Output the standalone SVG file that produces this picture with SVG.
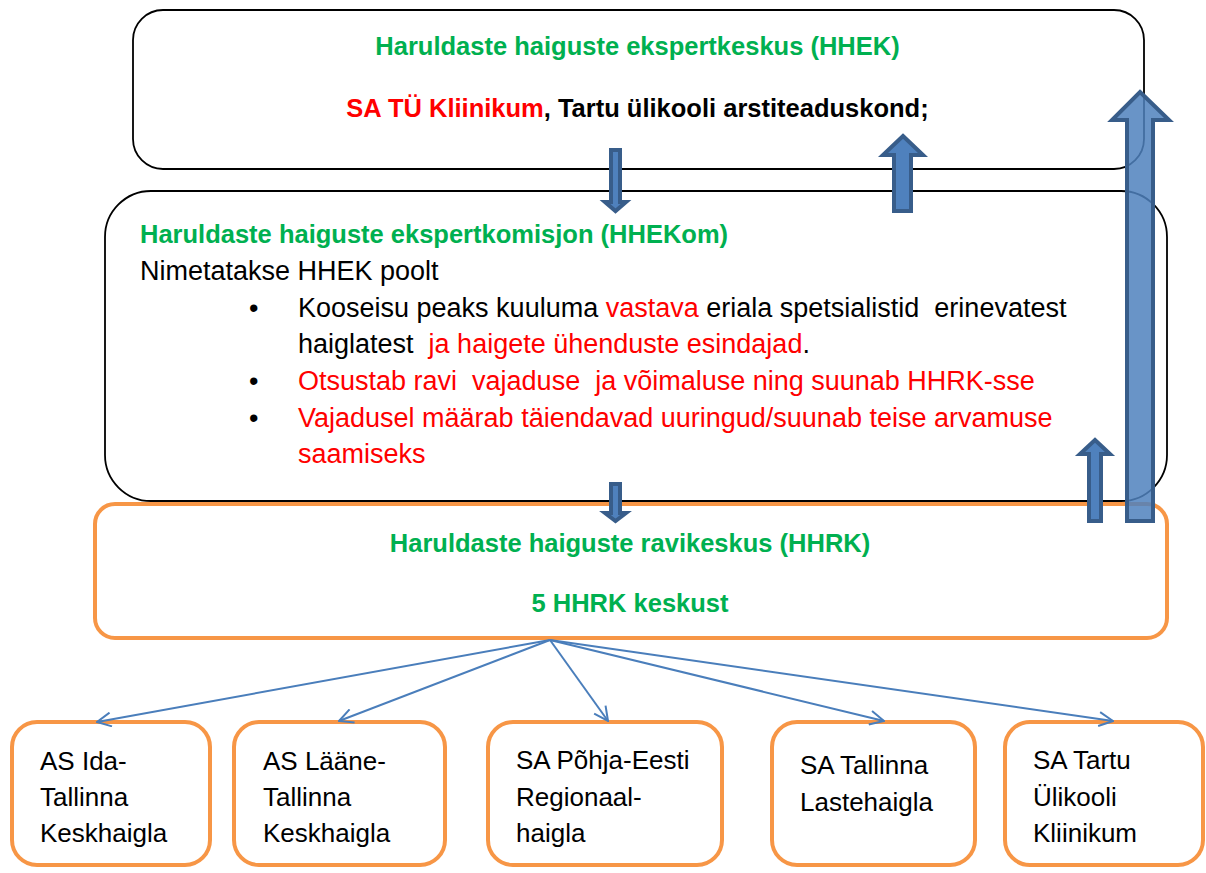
<svg xmlns="http://www.w3.org/2000/svg" width="1206" height="873" viewBox="0 0 1206 873">
<defs>
<style>
.box{fill:#fff;stroke:#000;stroke-width:1.8}
.obox{fill:#fff;stroke:#F79646;stroke-width:4}
text{font-family:"Liberation Sans",Arial,sans-serif;white-space:pre}
.title{font-weight:bold;font-size:25.5px;fill:#00B050}
.bold{font-weight:bold;font-size:25.5px;fill:#000}
.body{font-size:27px;fill:#000}
.red{fill:#FF0000}
.small{font-size:26px;fill:#000}
.blk{fill:#4F81BD;stroke:#385D8A;stroke-width:4;stroke-linejoin:miter}
.big{fill:#4F81BD;fill-opacity:0.85;stroke:#385D8A;stroke-width:4;stroke-linejoin:miter}
.conn{stroke:#4A7EBB;stroke-width:2;fill:none}
</style>
<marker id="open" viewBox="0 0 16 16" refX="15" refY="8" markerWidth="16" markerHeight="16" markerUnits="userSpaceOnUse" orient="auto">
<path d="M1,1 L15,8 L1,15" fill="none" stroke="#4A7EBB" stroke-width="2"/>
</marker>
</defs>

<g id="hhek">
<rect class="box" x="133" y="10" width="1011" height="159" rx="30" ry="30"/>
<text class="title" x="637.5" y="55" text-anchor="middle">Haruldaste haiguste ekspertkeskus (HHEK)</text>
<text class="bold" x="637.5" y="117" text-anchor="middle"><tspan class="red">SA TÜ Kliinikum</tspan>, Tartu ülikooli arstiteaduskond;</text>
</g>

<g id="hhekom">
<rect class="box" x="105" y="191" width="1062" height="310" rx="46" ry="46"/>
<text class="title" x="140" y="243">Haruldaste haiguste ekspertkomisjon (HHEKom)</text>
<text class="body" x="140" y="280">Nimetatakse HHEK poolt</text>
<text class="body" x="249" y="317">•</text>
<text class="body" x="298" y="317">Kooseisu peaks kuuluma <tspan class="red">vastava</tspan> eriala spetsialistid  erinevatest</text>
<text class="body" x="298" y="353">haiglatest  <tspan class="red">ja haigete ühenduste esindajad</tspan>.</text>
<text class="body" x="249" y="390">•</text>
<text class="body red" x="298" y="390">Otsustab ravi  vajaduse  ja võimaluse ning suunab HHRK-sse</text>
<text class="body" x="249" y="427">•</text>
<text class="body red" x="298" y="427">Vajadusel määrab täiendavad uuringud/suunab teise arvamuse</text>
<text class="body red" x="298" y="463">saamiseks</text>
</g>

<g id="hhrk">
<rect class="obox" x="95" y="504" width="1072" height="134" rx="20" ry="20"/>
<text class="title" x="630" y="552" text-anchor="middle">Haruldaste haiguste ravikeskus (HHRK)</text>
<text class="title" x="630" y="612" text-anchor="middle">5 HHRK keskust</text>
</g>

<g id="ida-tallinna">
<rect class="obox" x="12" y="722" width="198" height="143" rx="25" ry="25"/>
<text class="small" x="40" y="770">AS Ida-</text>
<text class="small" x="40" y="806">Tallinna</text>
<text class="small" x="40" y="842">Keskhaigla</text>
</g>

<g id="laane-tallinna">
<rect class="obox" x="234" y="722" width="211" height="143" rx="25" ry="25"/>
<text class="small" x="263" y="770">AS Lääne-</text>
<text class="small" x="263" y="806">Tallinna</text>
<text class="small" x="263" y="842">Keskhaigla</text>
</g>

<g id="pohja-eesti">
<rect class="obox" x="488" y="722" width="234" height="143" rx="25" ry="25"/>
<text class="small" x="516" y="769">SA Põhja-Eesti</text>
<text class="small" x="516" y="806">Regionaal-</text>
<text class="small" x="516" y="842">haigla</text>
</g>

<g id="lastehaigla">
<rect class="obox" x="772" y="722" width="203" height="143" rx="25" ry="25"/>
<text class="small" x="800" y="774">SA Tallinna</text>
<text class="small" x="800" y="811">Lastehaigla</text>
</g>

<g id="tyk">
<rect class="obox" x="1005" y="722" width="198" height="143" rx="25" ry="25"/>
<text class="small" x="1033" y="769">SA Tartu</text>
<text class="small" x="1033" y="806">Ülikooli</text>
<text class="small" x="1033" y="842">Kliinikum</text>
</g>

<g id="connectors">
<line class="conn" x1="550" y1="640" x2="97" y2="722" marker-end="url(#open)"/>
<line class="conn" x1="550" y1="640" x2="339" y2="721" marker-end="url(#open)"/>
<line class="conn" x1="550" y1="640" x2="608" y2="721" marker-end="url(#open)"/>
<line class="conn" x1="550" y1="640" x2="884" y2="721" marker-end="url(#open)"/>
<line class="conn" x1="550" y1="640" x2="1113" y2="721" marker-end="url(#open)"/>
<polygon class="blk" points="611,150 620,150 620,202 626,202 615.5,211 605,202 611,202"/>
<polygon class="blk" points="611,484 620,484 620,513 626,513 615.5,521 605,513 611,513"/>
<polygon class="blk" points="903,136 923,155 911,155 911,211 894,211 894,155 883,155"/>
<polygon class="blk" points="1095,440 1110,454 1101,454 1101,521 1089,521 1089,454 1080,454"/>
<polygon class="big" points="1140,92 1169,120 1153,120 1153,521 1127,521 1127,120 1112,120"/>
</g>
</svg>
